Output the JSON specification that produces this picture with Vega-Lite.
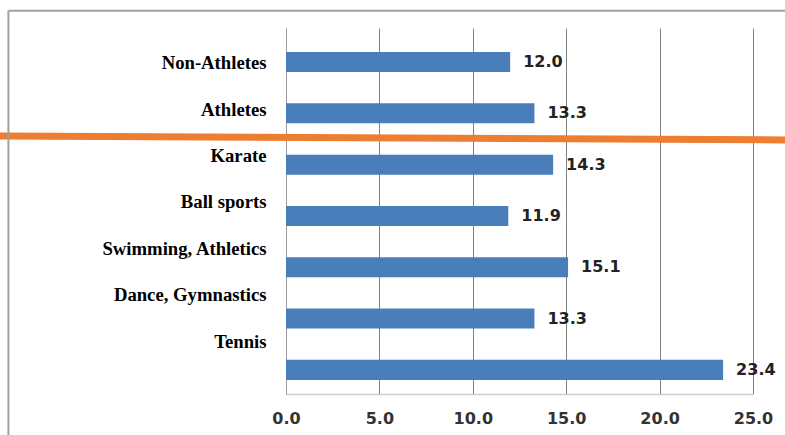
{
  "$schema": "https://vega.github.io/schema/vega-lite/v6.json",
  "autosize": {"type": "none"},
  "width": 467,
  "height": 366,
  "padding": {"left": 286, "top": 28, "right": 32, "bottom": 41},
  "background": "white",
  "config": {"view": {"stroke": null}},
  "datasets": {
    "groups": [
      {"cat": "Non-Athletes", "value": 12.0},
      {"cat": "Athletes", "value": 13.3},
      {"cat": "Karate", "value": 14.3},
      {"cat": "Ball sports", "value": 11.9},
      {"cat": "Swimming, Athletics", "value": 15.1},
      {"cat": "Dance, Gymnastics", "value": 13.3},
      {"cat": "Tennis", "value": 23.4}
    ],
    "divider": [
      {"x": -15.32, "x2": 26.75, "y": 1.44, "y2": 1.52}
    ],
    "frame": [
      {"x": -14.86, "x2": -14.86, "y": -1.0, "y2": 7.6},
      {"x": -14.86, "x2": 27.0, "y": -1.0, "y2": -1.0}
    ]
  },
  "layer": [
    {
      "data": {"name": "groups"},
      "encoding": {
        "y": {
          "field": "cat", "type": "nominal", "sort": null,
          "scale": {"type": "band", "paddingInner": 0.61, "paddingOuter": 0.372, "align": 0.63},
          "axis": {"labels": false, "ticks": false, "domain": true, "domainColor": "#9a9a9a", "domainWidth": 1, "grid": false, "title": null, "orient": "left"}
        },
        "x": {
          "field": "value", "type": "quantitative",
          "scale": {"domain": [0, 25], "nice": false, "zero": false},
          "axis": {
            "values": [0, 5, 10, 15, 20, 25], "format": ".1f", "title": null,
            "grid": true, "gridColor": "#808080", "gridWidth": 1,
            "ticks": false, "domain": true, "domainColor": "#cfcfcf", "domainWidth": 1.5,
            "labelFont": "DejaVu Sans", "labelFontWeight": "bold", "labelFontSize": 16,
            "labelColor": "#333333", "labelPadding": 16, "labelFlush": false, "labelOverlap": false
          }
        }
      },
      "layer": [
        {"mark": {"type": "bar", "color": "#4a7ebb"}},
        {
          "mark": {"type": "text", "align": "left", "baseline": "middle", "dx": 13, "font": "DejaVu Sans", "fontWeight": "bold", "fontSize": 16, "color": "#222222"},
          "encoding": {"text": {"field": "value", "type": "quantitative", "format": ".1f"}}
        }
      ]
    },
    {
      "data": {"name": "groups"},
      "mark": {"type": "bar", "opacity": 0},
      "encoding": {
        "y": {
          "field": "cat", "type": "nominal", "sort": null,
          "scale": {"type": "band", "paddingInner": 0, "paddingOuter": 0.444, "align": 0.29},
          "axis": {
            "orient": "left", "title": null, "domain": false, "ticks": false, "grid": false,
            "labelFont": "Liberation Serif", "labelFontWeight": "bold", "labelFontSize": 18.7,
            "labelColor": "#000000", "labelPadding": 20, "labelLimit": 300
          }
        }
      }
    },
    {
      "data": {"name": "divider"},
      "mark": {"type": "rule", "color": "#ED7D31", "strokeWidth": 7},
      "encoding": {
        "x": {"field": "x", "type": "quantitative", "scale": {"domain": [0, 25], "nice": false, "zero": false}},
        "x2": {"field": "x2"},
        "y": {"field": "y", "type": "quantitative", "scale": {"domain": [-0.663, 6.472], "reverse": true, "nice": false, "zero": false}, "axis": null},
        "y2": {"field": "y2"}
      }
    },
    {
      "data": {"name": "frame"},
      "mark": {"type": "rule", "color": "#a0a0a0", "strokeWidth": 2},
      "encoding": {
        "x": {"field": "x", "type": "quantitative", "scale": {"domain": [0, 25], "nice": false, "zero": false}},
        "x2": {"field": "x2"},
        "y": {"field": "y", "type": "quantitative", "scale": {"domain": [-0.663, 6.472], "reverse": true, "nice": false, "zero": false}, "axis": null},
        "y2": {"field": "y2"}
      }
    }
  ],
  "resolve": {"scale": {"y": "independent"}, "axis": {"y": "independent"}}
}
